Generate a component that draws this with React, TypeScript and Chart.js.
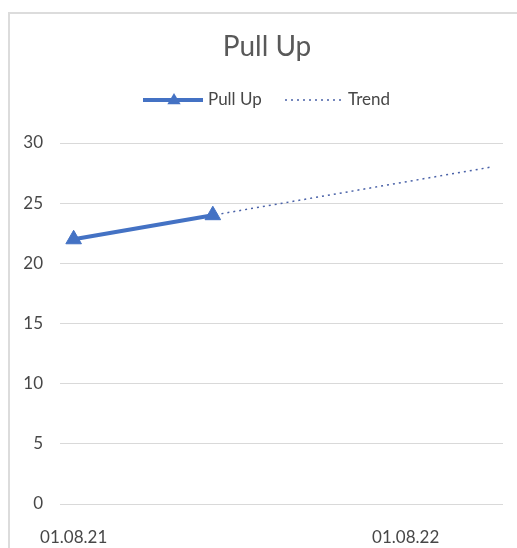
import React, { useEffect, useRef } from 'react';
import { Chart, registerables } from 'chart.js';

Chart.register(...registerables);

const TITLE = 'Pull Up';
const SERIES_NAME = 'Pull Up';
const TREND_NAME = 'Trend';
const AXIS_ORIGIN = '2021-08-01';
const pullUpDates = ['2021-08-01', '2022-01-01'];
const pullUpValues = [22, 24];
const trendDates = ['2021-08-01', '2022-11-03'];
const trendValues = [22, 28];
const xTickDates = ['2021-08-01', '2022-08-01'];
const xTickLabels = ['01.08.21', '01.08.22'];
const xRangeDates = ['2021-07-17', '2022-11-16'];
const yMin = 0;
const yMax = 30;
const yStep = 5;

const SERIES_COLOR = '#4472C4';
const TREND_COLOR = '#4a62a8';
const TEXT_COLOR = '#595959';
const LABEL_COLOR = '#474747';
const GRID_COLOR = '#d9d9d9';
const FONT = 'Lato';

function dayNum(s: string): number {
  const [y, m, d] = s.split('-').map(Number);
  const [oy, om, od] = AXIS_ORIGIN.split('-').map(Number);
  return Math.round((Date.UTC(y, m - 1, d) - Date.UTC(oy, om - 1, od)) / 86400000);
}

const xTickDays = xTickDates.map(dayNum);

const titleLegendPlugin = {
  id: 'excelTitleLegend',
  afterDraw(chart: any) {
    const ctx = chart.ctx as CanvasRenderingContext2D;
    ctx.save();
    // title
    ctx.font = `28px ${FONT}`;
    ctx.fillStyle = TEXT_COLOR;
    ctx.textAlign = 'center';
    ctx.textBaseline = 'middle';
    ctx.fillText(TITLE, 267, 47);

    const y = 100;
    const start = 143;
    // Pull Up item: thick line with triangle
    ctx.strokeStyle = SERIES_COLOR;
    ctx.lineWidth = 4;
    ctx.beginPath();
    ctx.moveTo(start, y);
    ctx.lineTo(start + 60, y);
    ctx.stroke();
    const cx = start + 31;
    const r = 7;
    ctx.fillStyle = SERIES_COLOR;
    ctx.beginPath();
    ctx.moveTo(cx, y - r);
    ctx.lineTo(cx + r * 0.95, y + r * 0.6);
    ctx.lineTo(cx - r * 0.95, y + r * 0.6);
    ctx.closePath();
    ctx.fill();
    ctx.font = `17px ${FONT}`;
    ctx.fillStyle = LABEL_COLOR;
    ctx.textAlign = 'left';
    ctx.fillText(SERIES_NAME, start + 65, y);
    // Trend item: dotted line
    const t0 = 285;
    ctx.strokeStyle = TREND_COLOR;
    ctx.lineWidth = 1.5;
    ctx.setLineDash([2, 4]);
    ctx.beginPath();
    ctx.moveTo(t0, y);
    ctx.lineTo(t0 + 56, y);
    ctx.stroke();
    ctx.setLineDash([]);
    ctx.fillText(TREND_NAME, t0 + 63, y);
    ctx.restore();
  },
};

export default function App() {
  const canvasRef = useRef<HTMLCanvasElement | null>(null);

  useEffect(() => {
    document.body.style.overflow = 'hidden';
    const canvas = canvasRef.current;
    if (!canvas) return;
    const chart = new Chart(canvas, {
      type: 'line',
      data: {
        datasets: [
          {
            label: SERIES_NAME,
            data: pullUpDates.map((d, i) => ({ x: dayNum(d), y: pullUpValues[i] })),
            borderColor: SERIES_COLOR,
            backgroundColor: SERIES_COLOR,
            borderWidth: 4,
            pointStyle: 'triangle',
            pointRadius: 9,
            pointBorderWidth: 1,
            pointBackgroundColor: SERIES_COLOR,
            pointBorderColor: SERIES_COLOR,
            tension: 0,
          },
          {
            label: TREND_NAME,
            data: trendDates.map((d, i) => ({ x: dayNum(d), y: trendValues[i] })),
            borderColor: TREND_COLOR,
            borderWidth: 1.5,
            borderDash: [2, 4],
            pointRadius: 0,
            tension: 0,
          },
        ],
      },
      options: {
        responsive: false,
        animation: false,
        layout: { padding: { left: 10, right: 14, top: 143, bottom: 0 } },
        plugins: {
          legend: { display: false },
          tooltip: { enabled: false },
          title: { display: false },
        },
        scales: {
          x: {
            type: 'linear',
            min: dayNum(xRangeDates[0]),
            max: dayNum(xRangeDates[1]),
            grid: { display: false, drawTicks: false },
            border: { display: false },
            afterBuildTicks: (scale: any) => {
              scale.ticks = xTickDays.map((v) => ({ value: v }));
            },
            afterFit: (scale: any) => {
              scale.height = 44;
            },
            ticks: {
              autoSkip: false,
              maxRotation: 0,
              padding: 23,
              color: LABEL_COLOR,
              font: { family: FONT, size: 17 },
              callback: (value: any) => {
                const i = xTickDays.indexOf(Number(value));
                return i >= 0 ? xTickLabels[i] : '';
              },
            },
          },
          y: {
            min: yMin,
            max: yMax,
            grid: { color: GRID_COLOR, lineWidth: 1, drawTicks: false },
            border: { display: false },
            afterFit: (scale: any) => {
              scale.width = 50;
            },
            ticks: {
              stepSize: yStep,
              padding: 17,
              color: LABEL_COLOR,
              font: { family: FONT, size: 17 },
            },
          },
        },
      },
      plugins: [titleLegendPlugin],
    } as any);
    return () => chart.destroy();
  }, []);

  return (
    <div style={{ position: 'fixed', left: 0, top: 0, width: 517, height: 548, background: '#fff', overflow: 'hidden' }}>
      <div
        style={{
          position: 'absolute',
          left: 8,
          top: 12,
          width: 600,
          height: 600,
          border: `2px solid #dcdcdc`,
          boxSizing: 'border-box',
        }}
      />
      <canvas
        ref={canvasRef}
        width={517}
        height={548}
        style={{ position: 'absolute', left: 0, top: 0, width: 517, height: 548 }}
      />
    </div>
  );
}
